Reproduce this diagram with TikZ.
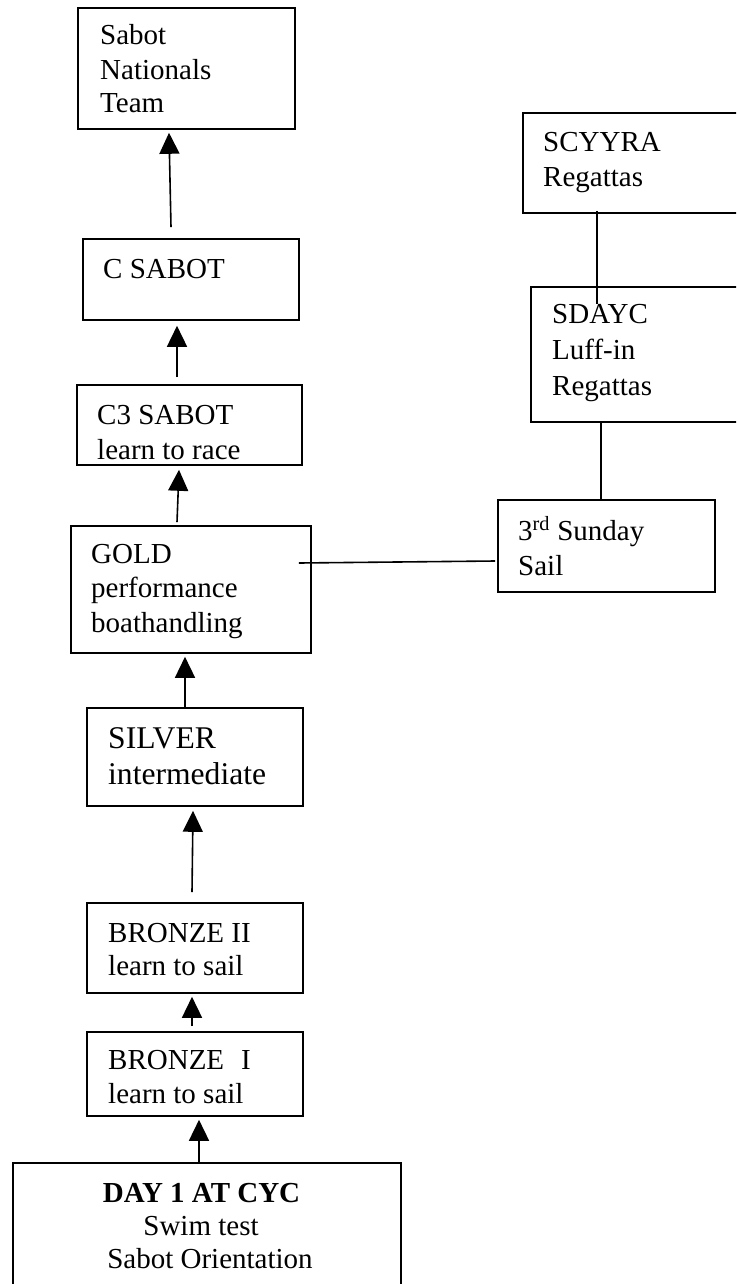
\documentclass[tikz,border=0pt]{standalone}
\usepackage{fontspec}
\setmainfont{Liberation Serif}
\usetikzlibrary{arrows.meta}
\begin{document}
\begin{tikzpicture}[x=1pt,y=-1pt,
  box/.style={draw,line width=1.6pt,rectangle,inner sep=0pt},
  txt/.style={anchor=base west,inner sep=0pt,font=\fontsize{29}{34}\selectfont},
  bigtxt/.style={anchor=base west,inner sep=0pt,font=\fontsize{31.6}{36}\selectfont},
  ctxt/.style={anchor=base,inner sep=0pt,font=\fontsize{29}{34}\selectfont},
  arr/.style={line width=1.6pt,-{Triangle[width=20pt,length=21pt]}},
  conn/.style={line width=1.6pt}]
\useasboundingbox (0,0) rectangle (736,1284);
\clip (0,0) rectangle (736,1284);

% boxes
\node[box,minimum width=217pt,minimum height=121pt] (nat) at (186.5,68.5) {};
\node[box,minimum width=216pt,minimum height=81pt] (cs) at (191,279.5) {};
\node[box,minimum width=225pt,minimum height=80pt] (c3) at (189.5,425) {};
\node[box,minimum width=240pt,minimum height=127pt] (gold) at (191,589.5) {};
\node[box,minimum width=216pt,minimum height=98pt] (silver) at (195,757) {};
\node[box,minimum width=216pt,minimum height=90pt] (b2) at (195,948) {};
\node[box,minimum width=216pt,minimum height=84pt] (b1) at (195,1074) {};
\node[box,minimum width=388pt,minimum height=137pt] (day) at (207,1231.5) {};
\node[box,minimum width=237pt,minimum height=100pt] (scy) at (641.5,163) {};
\node[box,minimum width=229pt,minimum height=135pt] (sday) at (645.5,354.5) {};
\node[box,minimum width=217pt,minimum height=92pt] (sun) at (606.5,546) {};

% texts
\node[txt] (natA) at (100,45) {Sabot};
\node[txt] (natB) at (100,80) {Nationals};
\node[txt] (natC) at (100,113) {Team};
\node[txt] (csA) at (103,278) {C SABOT};
\node[txt] (c3A) at (97,424) {C3 SABOT};
\begin{scope}
  \clip (c3.north west) rectangle ([yshift=5.5pt]c3.south east);
  \node[txt] (c3B) at (97,459) {learn to race};
\end{scope}
\node[txt] (goldA) at (91,563) {GOLD};
\node[txt] (goldB) at (91,597) {performance};
\node[txt] (goldC) at (91,632) {boathandling};
\node[bigtxt] (silA) at (108,748) {SILVER};
\node[bigtxt] (silB) at (108,784) {intermediate};
\node[txt] (b2A) at (108,942) {BRONZE II};
\node[txt] (b2B) at (108,975) {learn to sail};
\node[txt] (b1A) at (108,1069) {BRONZE\hspace*{17pt}I};
\node[txt] (b1B) at (108,1103) {learn to sail};
\node[ctxt,font=\fontsize{29}{34}\selectfont\bfseries] (dayA) at (201.5,1202) {DAY 1 AT CYC};
\node[ctxt] (dayB) at (201,1235) {Swim test};
\node[ctxt] (dayC) at (210,1268) {Sabot Orientation};
\node[txt] (scyA) at (543,152) {SCYYRA};
\node[txt] (scyB) at (543,186) {Regattas};
\node[txt] (sdA) at (552,323) {SDAYC};
\node[txt] (sdB) at (552,359) {Luff-in};
\node[txt] (sdC) at (552,395) {Regattas};
\node[txt] (sunA) at (518,540) {3\textsuperscript{rd} Sunday};
\node[txt] (sunB) at (518,575) {Sail};

% arrows
\draw[arr] ([xshift=-20pt,yshift=11pt]cs.north) -- ([xshift=-17.5pt,yshift=-3pt]nat.south);
\draw[arr] ([xshift=-12.5pt,yshift=7pt]c3.north) -- ([xshift=-14pt,yshift=-5pt]cs.south);
\draw[arr] ([xshift=-14pt,yshift=3pt]gold.north) -- ([xshift=-10.5pt,yshift=-4pt]c3.south);
\draw[arr] ([xshift=-10pt,yshift=-1pt]silver.north) -- ([xshift=-6pt,yshift=-3pt]gold.south);
\draw[arr] ([xshift=-3pt,yshift=10pt]b2.north) -- ([xshift=-2pt,yshift=-4pt]silver.south);
\draw[arr] ([xshift=-3pt,yshift=5pt]b1.north) -- ([xshift=-3pt,yshift=-3pt]b2.south);
\draw[arr] ([xshift=-8pt]day.north) -- ([xshift=4pt,yshift=-3pt]b1.south);

% plain connectors
\draw[conn] ([xshift=-44.5pt,yshift=3pt]scy.south) -- ([xshift=-48.5pt,yshift=-18pt]sday.north);
\draw[conn] ([xshift=-44.5pt]sday.south) -- ([xshift=-5.5pt]sun.north);
\draw[conn] ([xshift=-13pt,yshift=26.5pt]gold.east) -- ([xshift=-2pt,yshift=-15pt]sun.west);
\end{tikzpicture}
\end{document}
